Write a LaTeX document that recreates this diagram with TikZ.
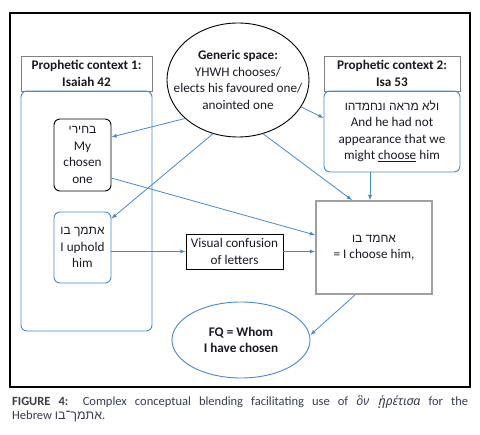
\documentclass[tikz,border=0pt]{standalone}
\usepackage{fontspec}
\setmainfont{Carlito}
\newfontfamily\hebfont[Script=Hebrew]{Liberation Sans}
\newfontfamily\grkfont{Noto Sans}
\TeXXeTstate=1
\usetikzlibrary{shapes.geometric}
\definecolor{lineblue}{RGB}{68,136,204}
\definecolor{boxgray}{RGB}{128,128,128}
\definecolor{framegray}{RGB}{160,160,160}
\definecolor{txtdark}{RGB}{25,25,35}
\definecolor{captxt}{RGB}{55,60,80}

\begin{document}
\begin{tikzpicture}[
    x=1pt, y=-1pt,
    every node/.style={font=\fontsize{13.2}{16.5}\selectfont, text=txtdark, align=center, inner sep=0pt},
    header/.style={draw=boxgray, rectangle, line width=0.9pt, minimum height=35pt, font=\fontsize{13.2}{16.5}\selectfont\bfseries},
    panel/.style={draw=lineblue, rectangle, rounded corners=6pt, line width=0.9pt},
    item/.style={rectangle, rounded corners=6pt, line width=0.9pt, minimum width=57pt},
    blob/.style={ellipse, line width=0.9pt},
    arrow/.style={-latex, draw=lineblue, line width=0.8pt}
]
    \useasboundingbox (0,0) rectangle (480,435);

    % Rahmen
    \node (frame) [draw, rectangle, minimum width=460pt, minimum height=374pt, line width=1.1pt] at (240,200) {};

    % Kontext 1 (links)
    \node (ctxonehead) [header, minimum width=131pt] at (86.5,73.5) {Prophetic context 1:\\Isaiah 42};
    \node (ctxonebody) [panel, minimum width=131pt, minimum height=240pt] at (86.5,211) {};
    \node (chosen) [item, draw=black, minimum height=72pt] at (82.5,155) {{\hebfont\fontsize{12}{15}\selectfont\beginR בחירי\endR}\\My\\chosen\\one};
    \node (uphold) [item, draw=lineblue, minimum height=71pt] at (82.5,247.5) {{\hebfont\fontsize{12}{15}\selectfont\beginR אתמך בו\endR}\\I uphold\\him};

    % Generischer Raum
    \node (generic) [blob, draw=black, inner xsep=-15pt, minimum width=142pt, minimum height=114pt] at (238,80) {\textbf{Generic space:}\\YHWH chooses/\\elects his favoured one/\\anointed one};

    % Kontext 2 (rechts)
    \node (ctxtwohead) [header, minimum width=136pt] at (392,73.5) {Prophetic context 2:\\Isa 53};
    \node (ctxtwobody) [panel, minimum width=136pt, minimum height=81pt] at (392,131.5) {{\hebfont\fontsize{12}{15}\selectfont\beginR ולא מראה ונחמדהו\endR}\\And he had not\\appearance that we\\might \underline{choose} him};

    % Mischung
    \node (visual) [draw=black, rectangle, line width=0.9pt, minimum width=97pt, minimum height=35pt] at (234.5,251.5) {Visual confusion\\of letters};
    \node (choose) [draw=framegray, rectangle, line width=1.8pt, minimum width=116pt, minimum height=93pt] at (374,247.5) {{\hebfont\fontsize{12}{15}\selectfont\beginR אחמד בו\endR}\\= I choose him,};
    \node (fq) [blob, draw=lineblue, minimum width=138pt, minimum height=76pt] at (241,340) {\textbf{FQ = Whom}\\\textbf{I have chosen}};

    % Pfeile
    \draw [arrow] (generic.216) -- ([yshift=18pt]chosen.east);
    \draw [arrow] (generic.245) -- ([yshift=-7pt]uphold.north east);
    \draw [arrow] (generic.337) -- ([yshift=13.5pt]ctxtwobody.west);
    \draw [arrow] (generic.295) -- ([xshift=-22pt]choose.north);
    \draw [arrow] ([xshift=-22pt]ctxtwobody.south) -- ([xshift=-4pt]choose.north);
    \draw [arrow] ([yshift=-23pt]chosen.east) -- ([yshift=12.5pt]choose.west);
    \draw [arrow] ([yshift=-4pt]uphold.east) -- (visual.west);
    \draw [arrow] (visual.east) -- (visual.east -| choose.west);
    \draw [arrow] ([xshift=-19pt]choose.south) -- ([yshift=5pt]fq.east);

    % Bildunterschrift
    \node (caption) [anchor=north west, text width=456pt, align=justify, text=captxt, font=\fontsize{12.5}{14}\selectfont] at (12,396) {{\bfseries\color{txtdark!85}FIGURE 4:} Complex conceptual blending facilitating use of {\grkfont\itshape ὃν ᾑρέτισα} for the\linebreak Hebrew {\hebfont\beginR אתמך־בו\endR}.};
\end{tikzpicture}
\end{document}
